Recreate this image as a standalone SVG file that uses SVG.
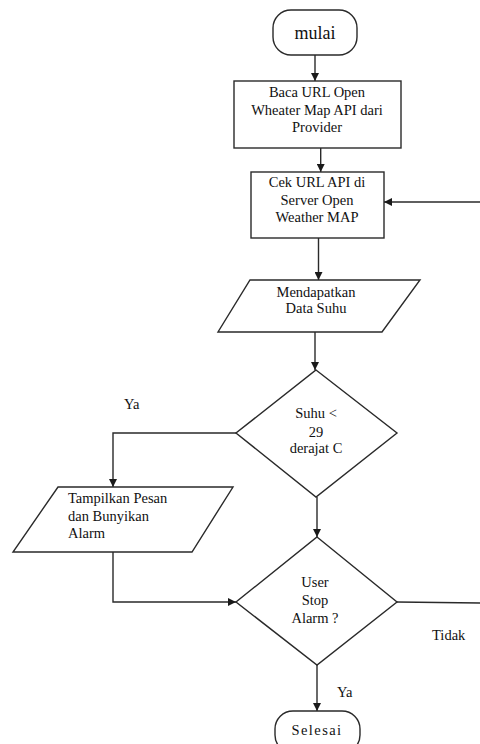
<svg xmlns="http://www.w3.org/2000/svg" width="480" height="744" viewBox="0 0 480 744">
<style>
.s{fill:#fff;stroke:#2a2a2a;stroke-width:1.4}
.c{fill:none;stroke:#2a2a2a;stroke-width:1.4}
text{font-family:"Liberation Serif","Times New Roman",serif;font-size:14.5px;fill:#111}
.m{text-anchor:middle}
</style>
<defs>
<marker id="ah" markerUnits="userSpaceOnUse" markerWidth="8" markerHeight="8" refX="8" refY="4" orient="auto">
<path d="M0,0 L8,4 L0,8 z" fill="#1a1a1a"/>
</marker>
</defs>
<rect width="480" height="744" fill="#fff"/>
<g id="connectors">
<line class="c" x1="315" y1="55" x2="315" y2="81" marker-end="url(#ah)"/>
<line class="c" x1="320.7" y1="140" x2="320.7" y2="172" marker-end="url(#ah)"/>
<line class="c" x1="480" y1="202" x2="384" y2="202" marker-end="url(#ah)"/>
<line class="c" x1="318.5" y1="238" x2="318.5" y2="280" marker-end="url(#ah)"/>
<line class="c" x1="315" y1="328" x2="315" y2="370" marker-end="url(#ah)"/>
<polyline class="c" points="236,433 113,433 113,487" marker-end="url(#ah)"/>
<polyline class="c" points="113,552 113,602 236,602" marker-end="url(#ah)"/>
<line class="c" x1="317" y1="497" x2="317" y2="537" marker-end="url(#ah)"/>
<line class="c" x1="397" y1="602" x2="480" y2="603"/>
<line class="c" x1="317" y1="665" x2="317" y2="711" marker-end="url(#ah)"/>
<text x="124" y="409">Ya</text>
<text x="432" y="640">Tidak</text>
<text x="337" y="697">Ya</text>
</g>
<g id="mulai">
<rect class="s" x="273" y="10" width="84" height="45" rx="18"/>
<text class="m" x="315" y="39" style="font-size:18px">mulai</text>
</g>
<g id="baca">
<rect class="s" x="234" y="81" width="167" height="67"/>
<text class="m" x="317" y="97">Baca URL Open</text>
<text class="m" x="317" y="115">Wheater Map API dari</text>
<text class="m" x="317" y="132">Provider</text>
</g>
<g id="cek">
<rect class="s" x="251" y="172" width="133" height="66"/>
<text class="m" x="317" y="187">Cek URL API di</text>
<text class="m" x="317" y="205">Server Open</text>
<text class="m" x="317" y="222">Weather MAP</text>
</g>
<g id="mendapatkan">
<polygon class="s" points="250,280 420,280 382,332 218,332"/>
<text class="m" x="316" y="297">Mendapatkan</text>
<text class="m" x="316" y="313">Data Suhu</text>
</g>
<g id="suhu">
<polygon class="s" points="316,370 397,433 316,497 236,433"/>
<text class="m" x="316" y="418">Suhu &lt;</text>
<text class="m" x="316" y="437">29</text>
<text class="m" x="316" y="453">derajat C</text>
</g>
<g id="tampilkan">
<polygon class="s" points="58,487 233,487 192,552 13,552"/>
<text x="68" y="503">Tampilkan Pesan</text>
<text x="68" y="521">dan Bunyikan</text>
<text x="68" y="538">Alarm</text>
</g>
<g id="stop">
<polygon class="s" points="317,537 397,602 317,665 236,602"/>
<text class="m" x="315" y="587">User</text>
<text class="m" x="315" y="605">Stop</text>
<text class="m" x="315" y="623">Alarm ?</text>
</g>
<g id="selesai">
<rect class="s" x="275" y="711" width="85" height="42" rx="18"/>
<text class="m" x="317" y="735" letter-spacing="1.4">Selesai</text>
</g>
</svg>
